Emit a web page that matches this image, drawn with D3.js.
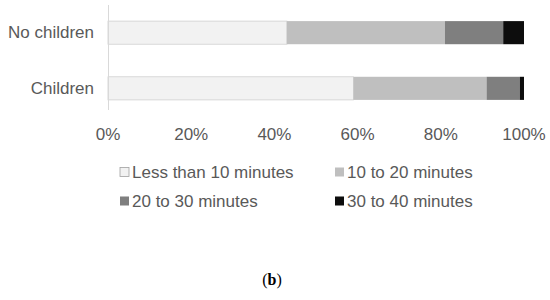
<!DOCTYPE html>
<html><head><meta charset="utf-8">
<script src="https://cdn.jsdelivr.net/npm/d3@7"></script>
<style>body{margin:0;background:#fff}</style>
</head><body>
<svg id="c" width="550" height="300"></svg>
<script>
const categories = ["No children", "Children"];
const seriesNames = ["Less than 10 minutes", "10 to 20 minutes", "20 to 30 minutes", "30 to 40 minutes"];
const lessThan10 = [43, 59];
const from10to20 = [38, 32];
const from20to30 = [14, 8];
const from30to40 = [5, 1];
const tickLabels = [0, 20, 40, 60, 80, 100];
const colors = ["#f2f2f2", "#bfbfbf", "#7f7f7f", "#0d0d0d"];

const svg = d3.select("#c");
const x = d3.scaleLinear().domain([0, 100]).range([108, 524]);
const y = d3.scaleBand().domain(categories).range([4.4, 116.6]).paddingInner(0.585).paddingOuter(0.3);

const rows = categories.map((c, i) => ({cat: c, v: [lessThan10[i], from10to20[i], from20to30[i], from30to40[i]]}));
const txt = "#595959";
const font = "Liberation Sans, Arial, sans-serif";
const fs = 17;

rows.forEach(r => {
  let acc = 0;
  r.v.forEach((v, k) => {
    svg.append("rect").attr("x", x(acc)).attr("y", y(r.cat))
      .attr("width", x(acc + v) - x(acc)).attr("height", y.bandwidth())
      .attr("fill", colors[k]).attr("stroke", k === 0 ? "#d0d0d0" : "none").attr("stroke-width", 0.8);
    acc += v;
  });
  svg.append("text").attr("x", 94).attr("y", y(r.cat) + y.bandwidth() / 2)
    .attr("text-anchor", "end").attr("dominant-baseline", "central")
    .attr("font-family", font).attr("font-size", fs).attr("fill", txt).text(r.cat);
});

svg.append("line").attr("x1", 108.5).attr("x2", 108.5).attr("y1", 5).attr("y2", 110)
  .attr("stroke", "#d9d9d9").attr("stroke-width", 1);

tickLabels.forEach(t => {
  svg.append("text").attr("x", x(t)).attr("y", 134).attr("text-anchor", "middle")
    .attr("dominant-baseline", "central").attr("font-family", font).attr("font-size", fs)
    .attr("fill", txt).text(t + "%");
});

const legPos = [[120, 172], [335, 172], [120, 201], [335, 201]];
seriesNames.forEach((n, k) => {
  const [lx, ly] = legPos[k];
  svg.append("rect").attr("x", lx).attr("y", ly - 4.5).attr("width", 9).attr("height", 9)
    .attr("fill", colors[k]).attr("stroke", k === 0 ? "#a0a0a0" : "none").attr("stroke-width", 0.8);
  svg.append("text").attr("x", lx + 12).attr("y", ly).attr("dominant-baseline", "central")
    .attr("font-family", font).attr("font-size", fs).attr("fill", txt).text(n);
});

const cap = svg.append("text").attr("x", 272).attr("y", 285).attr("text-anchor", "middle")
  .attr("font-family", "Liberation Serif, Times New Roman, serif").attr("font-size", 16).attr("fill", "#000");
cap.append("tspan").text("(");
cap.append("tspan").attr("font-weight", "bold").text("b");
cap.append("tspan").text(")");
</script>
</body></html>
